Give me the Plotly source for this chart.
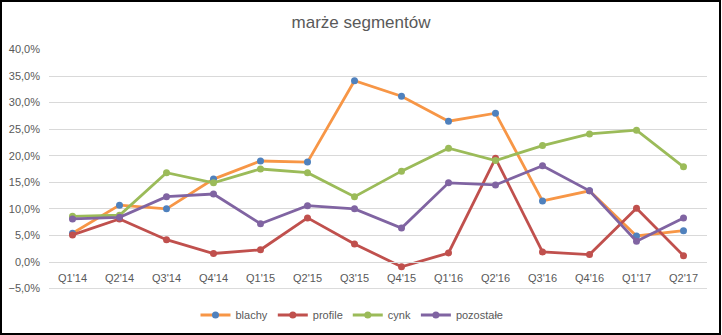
import plotly.graph_objects as go

categories = ["Q1'14", "Q2'14", "Q3'14", "Q4'14", "Q1'15", "Q2'15", "Q3'15",
              "Q4'15", "Q1'16", "Q2'16", "Q3'16", "Q4'16", "Q1'17", "Q2'17"]

blachy = [0.054, 0.107, 0.100, 0.156, 0.190, 0.188, 0.341, 0.312, 0.265, 0.280, 0.115, 0.134, 0.049, 0.059]
profile = [0.051, 0.081, 0.042, 0.016, 0.023, 0.083, 0.034, -0.009, 0.017, 0.195, 0.019, 0.014, 0.101, 0.012]
cynk = [0.086, 0.088, 0.168, 0.149, 0.175, 0.168, 0.123, 0.171, 0.214, 0.191, 0.219, 0.241, 0.248, 0.179]
pozostale = [0.081, 0.084, 0.123, 0.128, 0.072, 0.106, 0.100, 0.064, 0.149, 0.145, 0.181, 0.134, 0.039, 0.083]

series = [
    ("blachy", blachy, "#F79646", "#4F81BD"),
    ("profile", profile, "#C0504D", "#C0504D"),
    ("cynk", cynk, "#9BBB59", "#9BBB59"),
    ("pozostałe", pozostale, "#8064A2", "#8064A2"),
]

FONT = "Liberation Sans"
GREY = "#595959"
GRID = "#D9D9D9"

fig = go.Figure()
for name, vals, lc, mc in series:
    fig.add_trace(go.Scatter(
        x=categories, y=vals, name=name, mode="lines+markers",
        line=dict(color=lc, width=2.8),
        marker=dict(color=mc, size=7),
    ))

W, H = 722, 335
ml, mr, mt, mb = 49, 15, 49, 46
ymin, ymax = -0.05, 0.40
pw, ph = W - ml - mr, H - mt - mb

fig.update_layout(
    width=W, height=H,
    margin=dict(l=ml, r=mr, t=mt, b=mb, autoexpand=False),
    paper_bgcolor="white", plot_bgcolor="white",
    separators=", ",
    font=dict(family=FONT, size=11, color=GREY),
    title=dict(text="marże segmentów", x=0.5, xanchor="center",
               xref="container", yref="container", y=1 - 22 / H, yanchor="middle",
               font=dict(family=FONT, size=17, color=GREY)),
    showlegend=True,
    legend=dict(orientation="h", xref="container", x=352 / W, xanchor="center",
                yref="container", y=1 - 315 / H, yanchor="middle",
                font=dict(family=FONT, size=11, color=GREY),
                bgcolor="rgba(0,0,0,0)"),
    xaxis=dict(type="category", showgrid=False, ticks="",
               anchor="free", position=(0 - ymin) / (ymax - ymin),
               showline=True, linecolor=GRID, linewidth=1,
               ticklabelstandoff=5,
               tickfont=dict(family=FONT, size=11, color=GREY),
               range=[-0.5, len(categories) - 0.5]),
    yaxis=dict(range=[ymin - 0.0008, ymax + 0.0008], dtick=0.05, tick0=0,
               tickformat=".1%", showgrid=True, gridcolor=GRID, gridwidth=1,
               zeroline=True, zerolinecolor=GRID, zerolinewidth=1,
               showline=False, ticks="", ticklabelstandoff=8,
               tickfont=dict(family=FONT, size=11, color=GREY)),
    shapes=[
        dict(type="line", xref="paper", yref="y", x0=0, x1=1, y0=ymin, y1=ymin,
             line=dict(color=GRID, width=1), layer="below"),
        dict(type="rect", xref="paper", yref="paper",
             x0=(1 - ml) / pw, x1=(W - 2 - ml) / pw,
             y0=-(mb - 1) / ph, y1=1 + (mt - 1) / ph,
             line=dict(color="black", width=2), layer="above"),
    ],
)

fig.write_html("out.html")
